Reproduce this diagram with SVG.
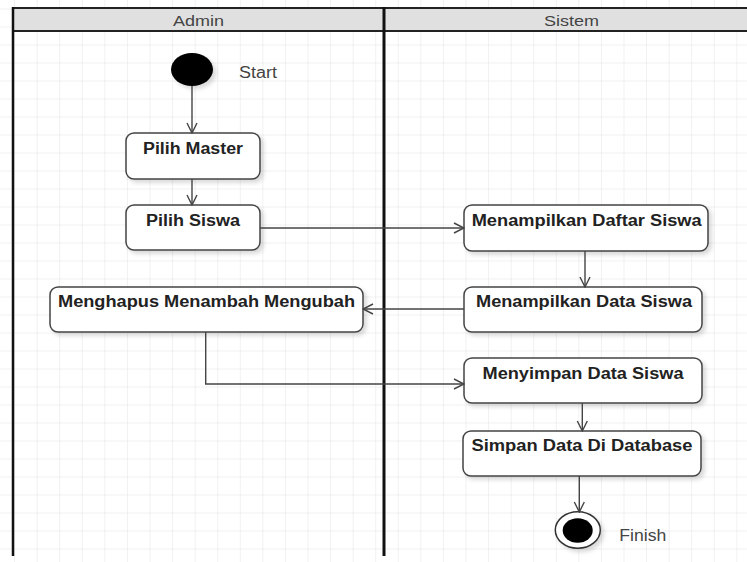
<svg xmlns="http://www.w3.org/2000/svg" width="747" height="562" viewBox="0 0 747 562">
<defs>
<pattern id="grid" patternUnits="userSpaceOnUse" x="14.1" y="8.5" width="22.57" height="18">
<path d="M0 0 H22.57 M0 0 V18" fill="none" stroke="#e4e4e4" stroke-width="1"/>
</pattern>
<filter id="sh" x="-10%" y="-20%" width="130%" height="150%">
<feDropShadow dx="3" dy="3" stdDeviation="2" flood-color="#000" flood-opacity="0.15"/>
</filter>
<marker id="arr" viewBox="0 0 12 12" refX="11" refY="6" markerWidth="12" markerHeight="12" markerUnits="userSpaceOnUse" orient="auto">
<path d="M1 1 L11 6 L1 11" fill="none" stroke="#444" stroke-width="1.4"/>
</marker>
</defs>
<style>
.node rect{fill:#fff;stroke:#444;stroke-width:1.5;filter:url(#sh)}
.lbl{font-family:"Liberation Sans",Arial,sans-serif;font-weight:bold;font-size:16px;fill:#222;text-anchor:middle}
.cap{font-family:"Liberation Sans",Arial,sans-serif;font-size:16px;fill:#444}
.lane{font-family:"Liberation Sans",Arial,sans-serif;font-size:15px;fill:#444;text-anchor:middle}
.conn path{fill:none;stroke:#444;stroke-width:1.4;marker-end:url(#arr)}
</style>
<rect width="747" height="562" fill="#fff"/>
<rect width="747" height="562" fill="url(#grid)"/>
<g id="lanes">
<rect x="13" y="8" width="740" height="23" fill="#e0e0e0"/>
<line x1="13" y1="8" x2="747" y2="8" stroke="#222" stroke-width="2"/>
<line x1="13" y1="31" x2="747" y2="31" stroke="#222" stroke-width="2"/>
<line x1="13" y1="7" x2="13" y2="556" stroke="#111" stroke-width="2.5"/>
<line x1="384" y1="7" x2="384" y2="556" stroke="#111" stroke-width="3"/>
<text class="lane" x="198.5" y="25.5" textLength="51" lengthAdjust="spacingAndGlyphs">Admin</text>
<text class="lane" x="571.5" y="25.5" textLength="55" lengthAdjust="spacingAndGlyphs">Sistem</text>
</g>
<g id="start">
<ellipse cx="192" cy="69.5" rx="21" ry="16.5" fill="#000" filter="url(#sh)"/>
<text class="cap" x="239" y="78" textLength="38" lengthAdjust="spacingAndGlyphs">Start</text>
</g>
<g id="pilih-master" class="node">
<rect x="126" y="133" width="134" height="46" rx="8"/>
<text class="lbl" x="193" y="153.5" textLength="100" lengthAdjust="spacingAndGlyphs">Pilih Master</text>
</g>
<g id="pilih-siswa" class="node">
<rect x="126" y="205" width="134" height="45" rx="8"/>
<text class="lbl" x="193" y="225.5" textLength="94" lengthAdjust="spacingAndGlyphs">Pilih Siswa</text>
</g>
<g id="menghapus" class="node">
<rect x="50" y="287" width="313" height="45" rx="8"/>
<text class="lbl" x="206.5" y="306.5" textLength="297" lengthAdjust="spacingAndGlyphs">Menghapus Menambah Mengubah</text>
</g>
<g id="daftar-siswa" class="node">
<rect x="464" y="205" width="244" height="46" rx="8"/>
<text class="lbl" x="586.7" y="225.5" textLength="230" lengthAdjust="spacingAndGlyphs">Menampilkan Daftar Siswa</text>
</g>
<g id="data-siswa" class="node">
<rect x="464" y="287" width="238" height="45" rx="8"/>
<text class="lbl" x="584" y="307" textLength="216" lengthAdjust="spacingAndGlyphs">Menampilkan Data Siswa</text>
</g>
<g id="menyimpan" class="node">
<rect x="464" y="358" width="238" height="45" rx="8"/>
<text class="lbl" x="583" y="379" textLength="201" lengthAdjust="spacingAndGlyphs">Menyimpan Data Siswa</text>
</g>
<g id="simpan-db" class="node">
<rect x="463" y="431" width="238" height="45" rx="8"/>
<text class="lbl" x="582" y="451" textLength="221" lengthAdjust="spacingAndGlyphs">Simpan Data Di Database</text>
</g>
<g id="finish">
<ellipse cx="577.8" cy="530" rx="22.5" ry="18.3" fill="#fff" stroke="#333" stroke-width="1.5" filter="url(#sh)"/>
<ellipse cx="577.7" cy="530.5" rx="15" ry="12.2" fill="#000"/>
<text class="cap" x="619.3" y="541" textLength="47" lengthAdjust="spacingAndGlyphs">Finish</text>
</g>
<g id="connectors" class="conn">
<path d="M192 86 V133"/>
<path d="M192 179 V205"/>
<path d="M260 228 H464"/>
<path d="M585 251 V287"/>
<path d="M464 309 H363"/>
<path d="M205.7 332 V384 H464"/>
<path d="M582.3 403 V431"/>
<path d="M579.3 476 V512"/>
</g>
</svg>
